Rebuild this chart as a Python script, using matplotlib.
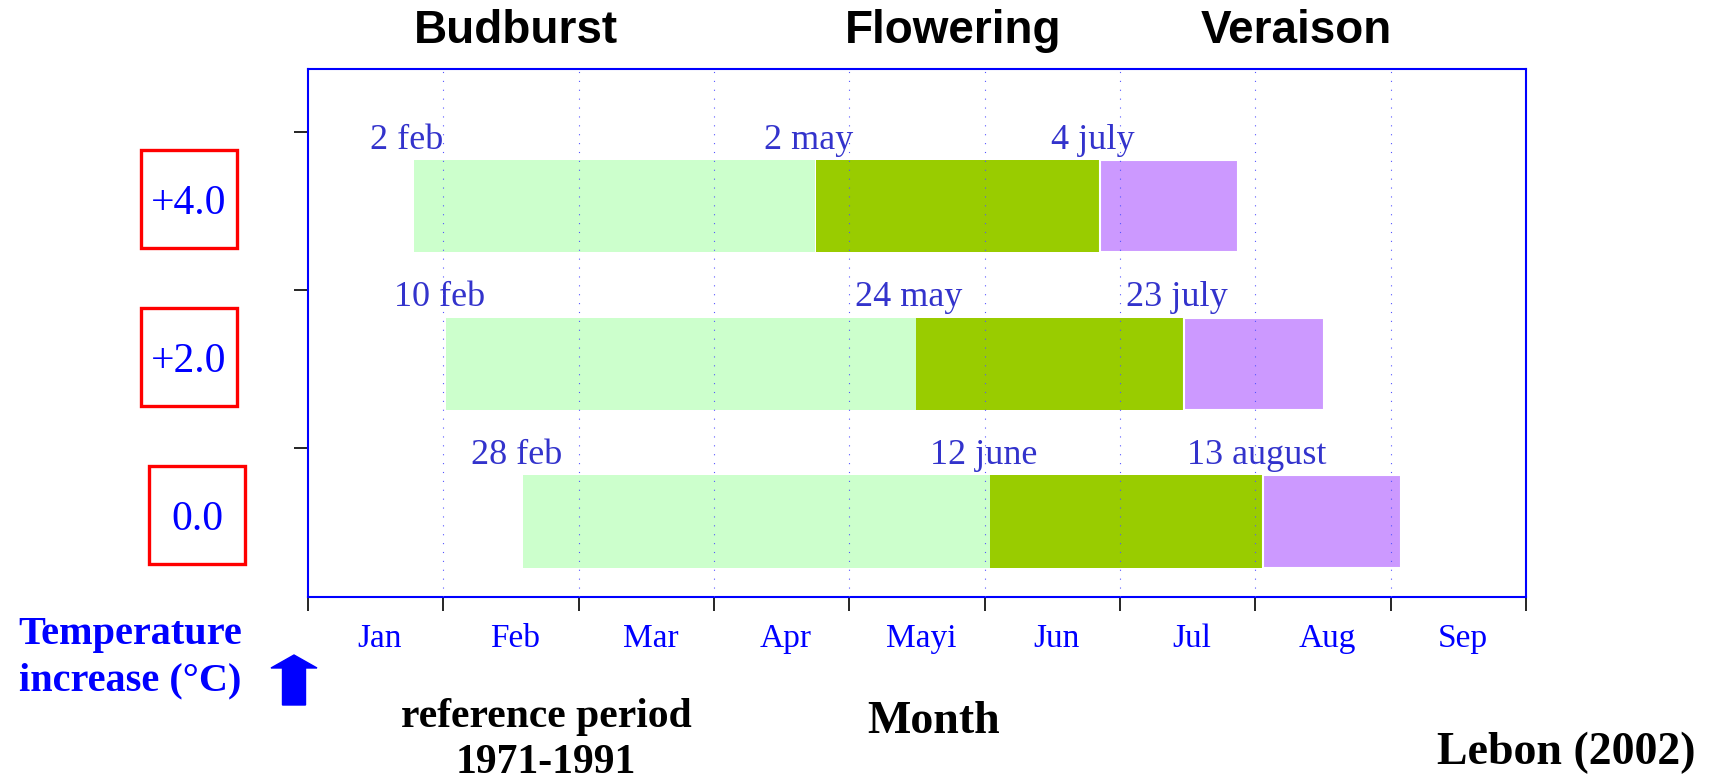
import matplotlib
matplotlib.use("Agg")
import matplotlib.pyplot as plt
from matplotlib.patches import Rectangle, FancyArrow
from matplotlib.transforms import blended_transform_factory

# scenario rows, bottom to top
scenarios = ['0.0', '+2.0', '+4.0']
# phase dates in month units (0 = start of Jan)
budburst = [1.59, 1.02, 0.78]
flowering = [5.04, 4.49, 3.75]
veraison = [7.06, 6.47, 5.85]
season_end = [8.08, 7.51, 6.87]
budburst_lbl = ['28 feb', '10 feb', '2 feb']
flowering_lbl = ['12 june', '24 may', '2 may']
veraison_lbl = ['13 august', '23 july', '4 july']
months = ['Jan', 'Feb', 'Mar', 'Apr', 'Mayi', 'Jun', 'Jul', 'Aug', 'Sep']
phases = ['Budburst', 'Flowering', 'Veraison']

W, H = 1713, 783
serif = 'Liberation Serif'
sans = 'Liberation Sans'

fig = plt.figure(figsize=(W / 100, H / 100), dpi=100)
ax = fig.add_axes([308 / W, 1 - 597 / H, (1526 - 308) / W, (597 - 69) / H])

rows = list(range(len(scenarios)))
h = 0.588
ax.barh(rows, [f - b for f, b in zip(flowering, budburst)], left=budburst,
        height=h, color='#ccffcc', zorder=1)
ax.barh(rows, [v - f for v, f in zip(veraison, flowering)], left=flowering,
        height=h, color='#99cc00', zorder=1)
ax.barh(rows, [e - v for e, v in zip(season_end, veraison)], left=veraison,
        height=h, color='#cc99ff', edgecolor='white', linewidth=1.5, zorder=1)

# date labels above each phase start
for r in rows:
    for x, lbl in [(budburst[r], budburst_lbl[r]), (flowering[r], flowering_lbl[r]),
                   (veraison[r], veraison_lbl[r])]:
        ax.text(x - 0.05, r + h / 2 + 0.07, lbl, ha='center', va='baseline',
                fontsize=26, family=serif, color='#3333cc')

ax.set_xlim(0, len(months))
ax.set_ylim(-0.476, 2.868)

# month boundaries and dotted grid
ax.set_xticks(range(len(months) + 1))
ax.set_xticklabels([])
ax.set_xticks([i + 0.53 for i in range(len(months))], minor=True)
ax.set_xticklabels(months, minor=True, fontsize=24, family=serif, color='#0000ff')
ax.tick_params(axis='x', which='major', length=10, width=1.2, color='black', direction='out')
ax.tick_params(axis='x', which='minor', length=0, pad=19)
for i in range(1, len(months)):
    ax.axvline(i, color='#5555ff', lw=0.8, ls=(0, (1, 7)), zorder=3)

ax.set_yticks([r + 0.47 for r in rows])
ax.set_yticklabels([])
ax.tick_params(axis='y', length=10, width=1.2, color='black', direction='out')

for sp in ax.spines.values():
    sp.set_color('#0000ff')
    sp.set_linewidth(1.5)

# phase titles
phase_x = [1.54, 4.77, 7.30]
for x, p in zip(phase_x, phases):
    fig.text((308 + x * 135.33) / W, 1 - 31 / H, p, ha='center', va='center',
             fontsize=33, family=sans, weight='bold', color='black')

# scenario boxes
tr = blended_transform_factory(fig.transFigure, ax.transData)
box_x = [197, 189, 189]
bw = 96 / W
bh = 0.62
for r, s in zip(rows, scenarios):
    cx = box_x[r] / W
    cy = r + 0.045
    fig.add_artist(Rectangle((cx - bw / 2, cy - bh / 2), bw, bh, transform=tr, fill=False,
                             edgecolor='#ff0000', linewidth=2.4, clip_on=False))
    fig.text(cx, cy - 0.03, s, transform=tr, ha='center', va='center', fontsize=30,
             family=serif, color='#0000ff')

fig.text(130 / W, 1 - 658 / H, 'Temperature\nincrease (°C)', ha='center', va='center',
         fontsize=29, family=serif, weight='bold', color='#0000ff', linespacing=1.35)

arrow = FancyArrow(2.94, (H - 705) / 100, 0, 0.5, width=0.23, head_width=0.46,
                   head_length=0.13, length_includes_head=True, color='#0000ff',
                   transform=fig.dpi_scale_trans)
fig.add_artist(arrow)

fig.text(546 / W, 1 - 740 / H, 'reference period\n1971-1991', ha='center', va='center',
         fontsize=30, family=serif, weight='bold', color='black', linespacing=1.27)
fig.text(934 / W, 1 - 722 / H, 'Month', ha='center', va='center',
         fontsize=33, family=serif, weight='bold', color='black')
fig.text(1566 / W, 1 - 753 / H, 'Lebon (2002)', ha='center', va='center',
         fontsize=33, family=serif, weight='bold', color='black')

fig.savefig('out.png', dpi=100)
